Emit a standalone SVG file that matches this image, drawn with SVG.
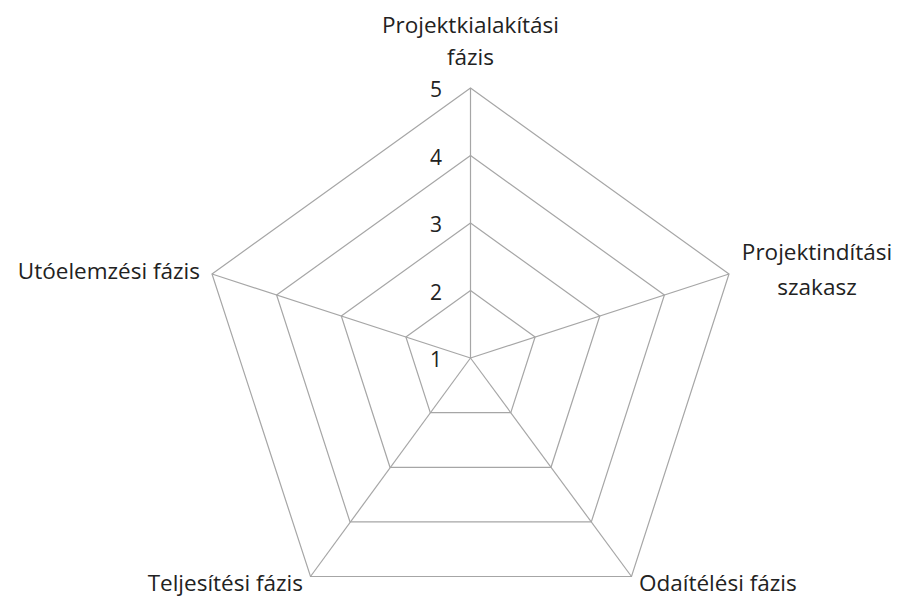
<svg xmlns="http://www.w3.org/2000/svg" width="900" height="597" viewBox="0 0 900 597">
<style>
.grid{fill:none;stroke:#a6a6a6;stroke-width:1.2;stroke-linejoin:miter}
.lbl{font-family:"Open Sans","Liberation Sans",sans-serif;font-size:22.5px;fill:#222}
.num{font-family:"Open Sans","Liberation Sans",sans-serif;font-size:21px;fill:#222;text-anchor:middle}
</style>
<rect width="900" height="597" fill="#fff"/>
<g id="grid">
<polygon class="grid" points="470.5,88 729,274 631.5,576.5 310.5,576.5 212,274"/>
<polygon class="grid" points="470.5,155.5 664.4,295 591.3,521.9 350,521.9 276.6,295"/>
<polygon class="grid" points="470.5,223 599.8,316 551,467.3 390,467.3 341.3,316"/>
<polygon class="grid" points="470.5,290.5 535.1,337 510.8,412.6 430.3,412.6 405.9,337"/>
</g>
<g id="connectors">
<line class="grid" x1="470.5" y1="358" x2="470.5" y2="88"/>
<line class="grid" x1="470.5" y1="358" x2="729" y2="274"/>
<line class="grid" x1="470.5" y1="358" x2="631.5" y2="576.5"/>
<line class="grid" x1="470.5" y1="358" x2="310.5" y2="576.5"/>
<line class="grid" x1="470.5" y1="358" x2="212" y2="274"/>
</g>
<g id="axis-labels">
<text class="num" x="436" y="97">5</text>
<text class="num" x="436" y="164.5">4</text>
<text class="num" x="436" y="232">3</text>
<text class="num" x="436" y="299.5">2</text>
<text class="num" x="436" y="367">1</text>
</g>
<g id="node-projektkialakitasi"><text class="lbl" text-anchor="middle" x="470.5" y="33">Projektkialakítási</text><text class="lbl" text-anchor="middle" x="470.5" y="65">fázis</text></g>
<g id="node-projektinditasi"><text class="lbl" text-anchor="middle" x="817" y="260">Projektindítási</text><text class="lbl" text-anchor="middle" x="817" y="295">szakasz</text></g>
<g id="node-odaitelesi"><text class="lbl" x="639" y="591">Odaítélési fázis</text></g>
<g id="node-teljesitesi"><text class="lbl" text-anchor="end" x="303" y="591">Teljesítési fázis</text></g>
<g id="node-utoelemzesi"><text class="lbl" text-anchor="end" x="200" y="279">Utóelemzési fázis</text></g>
</svg>
